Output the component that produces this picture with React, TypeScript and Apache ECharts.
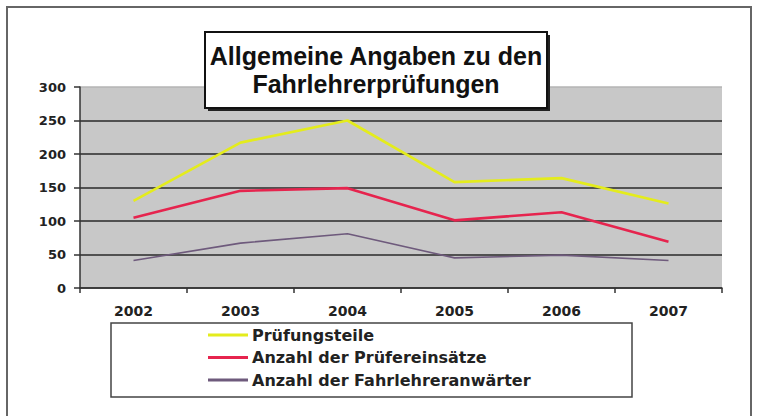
import React, { useEffect, useRef } from "react";
import * as echarts from "echarts";

const years = ["2002", "2003", "2004", "2005", "2006", "2007"];
const pruefungsteile = [130, 217, 250, 158, 164, 126];
const pruefereinsaetze = [105, 145, 149, 101, 113, 69];
const anwaerter = [41, 67, 81, 45, 49, 41];
const yTicks = { min: 0, max: 300, interval: 50 };
const seriesNames = [
  "Prüfungsteile",
  "Anzahl der Prüfereinsätze",
  "Anzahl der Fahrlehreranwärter",
];
const titleLines = ["Allgemeine Angaben zu den", "Fahrlehrerprüfungen"];

export default function App() {
  const ref = useRef<HTMLDivElement>(null);
  useEffect(() => {
    if (!ref.current) return;
    const chart = echarts.init(ref.current, null, { renderer: "svg" });
    const axisFont = "DejaVu Sans";
    chart.setOption({
      animation: false,
      backgroundColor: "#ffffff",
      grid: {
        left: 80,
        right: 35,
        top: 87,
        bottom: 128,
        show: true,
        backgroundColor: "#c8c8c8",
        borderWidth: 0,
      },
      xAxis: {
        type: "category",
        data: years,
        boundaryGap: true,
        axisLine: { show: true, lineStyle: { color: "#333", width: 1.5 } },
        axisTick: { show: true, length: 5, lineStyle: { color: "#333", width: 1.5 } },
        axisLabel: {
          margin: 16,
          fontFamily: axisFont,
          fontWeight: "bold",
          fontSize: 14,
          color: "#222",
        },
      },
      yAxis: {
        type: "value",
        min: yTicks.min,
        max: yTicks.max,
        interval: yTicks.interval,
        axisLine: { show: true, lineStyle: { color: "#333", width: 1.5 } },
        axisTick: { show: true, length: 6, lineStyle: { color: "#333", width: 1.5 } },
        axisLabel: {
          margin: 14,
          fontFamily: axisFont,
          fontWeight: "bold",
          fontSize: 13,
          color: "#222",
        },
        splitLine: {
          show: true,
          lineStyle: {
            color: ["#333", "#2a2a2a", "#2a2a2a", "#2a2a2a", "#2a2a2a", "#2a2a2a", "#b5b5b5"],
            width: 1.6,
          },
        },
      },
      legend: {
        show: true,
        orient: "vertical",
        left: 208,
        top: 326,
        icon: "rect",
        itemWidth: 40,
        itemHeight: 3,
        itemGap: 4.5,
        padding: 0,
        data: seriesNames,
        textStyle: {
          fontFamily: axisFont,
          fontWeight: "bold",
          fontSize: 16,
          lineHeight: 18,
          color: "#222",
          padding: [0, 0, 0, -1],
        },
      },
      graphic: [
        {
          type: "rect",
          silent: true,
          shape: { x: 7, y: 7, width: 744, height: 440 },
          style: { fill: "none", stroke: "#666", lineWidth: 2 },
          z: 100,
        },
        {
          type: "rect",
          silent: true,
          shape: { x: 111, y: 323, width: 521, height: 74 },
          style: { fill: "none", stroke: "#444", lineWidth: 1.5 },
          z: 100,
        },
        {
          type: "rect",
          silent: true,
          shape: { x: 208, y: 35, width: 342, height: 76 },
          style: { fill: "#222" },
          z: 100,
        },
        {
          type: "rect",
          silent: true,
          shape: { x: 205, y: 32, width: 342, height: 76 },
          style: { fill: "#ffffff", stroke: "#111", lineWidth: 2 },
          z: 101,
        },
        {
          type: "text",
          silent: true,
          x: 376,
          y: 56,
          z: 102,
          style: {
            text: titleLines[0],
            fontFamily: "Liberation Sans",
            fontWeight: "bold",
            fontSize: 25,
            fill: "#111",
            align: "center",
            verticalAlign: "middle",
          },
        },
        {
          type: "text",
          silent: true,
          x: 376,
          y: 84,
          z: 102,
          style: {
            text: titleLines[1],
            fontFamily: "Liberation Sans",
            fontWeight: "bold",
            fontSize: 25,
            fill: "#111",
            align: "center",
            verticalAlign: "middle",
          },
        },
      ],
      series: [
        {
          name: seriesNames[0],
          type: "line",
          data: pruefungsteile,
          symbol: "none",
          color: "#e4ec1c",
          lineStyle: { color: "#e4ec1c", width: 2.6 },
        },
        {
          name: seriesNames[1],
          type: "line",
          data: pruefereinsaetze,
          symbol: "none",
          color: "#e6244e",
          lineStyle: { color: "#e6244e", width: 2.6 },
        },
        {
          name: seriesNames[2],
          type: "line",
          data: anwaerter,
          symbol: "none",
          color: "#6e5a7c",
          lineStyle: { color: "#6e5a7c", width: 1.6 },
        },
      ],
    });
    return () => chart.dispose();
  }, []);
  return (
    <div
      ref={ref}
      style={{ position: "absolute", left: 0, top: 0, width: 757, height: 416, background: "#fff" }}
    />
  );
}
